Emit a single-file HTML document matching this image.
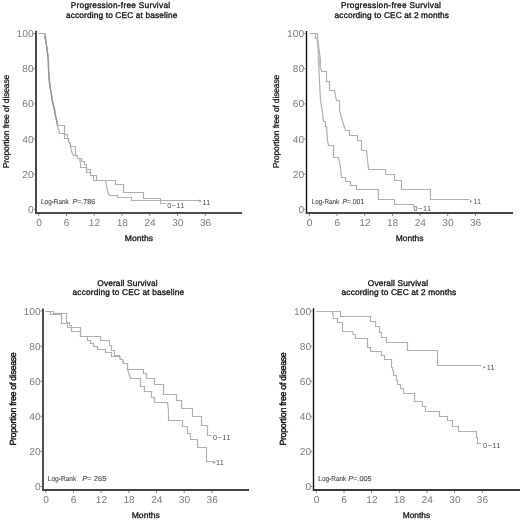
<!DOCTYPE html>
<html><head><meta charset="utf-8"><style>
html,body{margin:0;padding:0;background:#fff;width:520px;height:521px;overflow:hidden}
svg{display:block;filter:grayscale(1)}
text{font-family:"Liberation Sans", sans-serif;text-rendering:geometricPrecision}
.t{font-size:8.3px;fill:#111;stroke:#111;stroke-width:0.32px}
.yl{font-size:8.5px;fill:#111;stroke:#111;stroke-width:0.25px}
.mo{font-size:8.3px;fill:#111;stroke:#111;stroke-width:0.28px}
.tk{font-size:10px;fill:#7c7c7c;text-anchor:middle}
.ytk{font-size:10px;fill:#7c7c7c;text-anchor:end}
.lr{font-size:7.2px;fill:#505050;stroke:#505050;stroke-width:0.15px}
.cl{font-size:7.3px;fill:#555}
.ax{stroke:#222;stroke-width:2;fill:none}
.cv{stroke:#b0b0b0;stroke-width:1.2;fill:none}
.tick{stroke:#888;stroke-width:1}
</style></head><body>
<svg width="520" height="521" viewBox="0 0 520 521">

<text class="t" x="70.7" y="8.2" textLength="99.4" lengthAdjust="spacing">Progression-free Survival</text>
<text class="t" x="65.95" y="17.8" textLength="111.4" lengthAdjust="spacing">according to CEC at baseline</text>
<text class="yl" transform="translate(8.7,168.2) rotate(-90)" x="0" y="0" textLength="93.4" lengthAdjust="spacing">Proportion free of disease</text>
<line x1="36.0" y1="30.8" x2="36.0" y2="214.0" stroke="#4a4a4a" stroke-width="2.0"/>
<line x1="35.0" y1="213.0" x2="242.0" y2="213.0" stroke="#4c4c4c" stroke-width="2"/>
<line class="tick" x1="33.5" y1="209.4" x2="35.0" y2="209.4"/>
<text class="ytk" transform="translate(33.6,212.9) scale(1.02,1)">0</text>
<line class="tick" x1="33.5" y1="174.2" x2="35.0" y2="174.2"/>
<text class="ytk" transform="translate(33.6,177.7) scale(1.02,1)">20</text>
<line class="tick" x1="33.5" y1="139.0" x2="35.0" y2="139.0"/>
<text class="ytk" transform="translate(33.6,142.5) scale(1.02,1)">40</text>
<line class="tick" x1="33.5" y1="103.9" x2="35.0" y2="103.9"/>
<text class="ytk" transform="translate(33.6,107.4) scale(1.02,1)">60</text>
<line class="tick" x1="33.5" y1="68.7" x2="35.0" y2="68.7"/>
<text class="ytk" transform="translate(33.6,72.2) scale(1.02,1)">80</text>
<line class="tick" x1="33.5" y1="33.5" x2="35.0" y2="33.5"/>
<text class="ytk" transform="translate(33.6,37.0) scale(1.02,1)">100</text>
<line class="tick" x1="38.7" y1="214.0" x2="38.7" y2="216.0"/>
<text class="tk" transform="translate(39.0,226.2) scale(1.02,1)">0</text>
<line class="tick" x1="66.5" y1="214.0" x2="66.5" y2="216.0"/>
<text class="tk" transform="translate(66.7,226.2) scale(1.02,1)">6</text>
<line class="tick" x1="94.2" y1="214.0" x2="94.2" y2="216.0"/>
<text class="tk" transform="translate(94.5,226.2) scale(1.02,1)">12</text>
<line class="tick" x1="122.0" y1="214.0" x2="122.0" y2="216.0"/>
<text class="tk" transform="translate(122.3,226.2) scale(1.02,1)">18</text>
<line class="tick" x1="149.8" y1="214.0" x2="149.8" y2="216.0"/>
<text class="tk" transform="translate(150.0,226.2) scale(1.02,1)">24</text>
<line class="tick" x1="177.5" y1="214.0" x2="177.5" y2="216.0"/>
<text class="tk" transform="translate(177.8,226.2) scale(1.02,1)">30</text>
<line class="tick" x1="205.3" y1="214.0" x2="205.3" y2="216.0"/>
<text class="tk" transform="translate(205.6,226.2) scale(1.02,1)">36</text>
<text class="mo" x="124.8" y="240.7" textLength="28.2" lengthAdjust="spacingAndGlyphs">Months</text>
<text class="lr" x="41.0" y="204.4" textLength="27.8" lengthAdjust="spacingAndGlyphs">Log-Rank</text>
<text class="lr" x="72.39999999999999" y="204.4" textLength="22.9" lengthAdjust="spacingAndGlyphs"><tspan font-style="italic">P</tspan>=.786</text>
<polyline class="cv" points="38.5,33.5 45.5,33.5 45.5,39.5 46.5,45.5 47.5,52.5 48.5,58.5 48.5,70.5 49.5,80.5 50.5,88.5 51.5,94.5 52.5,101.5 54.5,108.5 55.5,115.5 56.5,120.5 57.5,125.5 64.5,125.5 64.5,134.5 67.5,134.5 67.5,138.5 68.5,138.5 68.5,142.5 69.5,142.5 70.5,144.5 70.5,146.5 75.5,146.5 75.5,155.5 77.5,155.5 77.5,158.5 81.5,158.5 81.5,161.5 84.5,161.5 84.5,164.5 86.5,164.5 86.5,169.5 90.5,169.5 90.5,175.5 96.5,175.5 96.5,180.5 115.5,180.5 115.5,184.5 123.5,184.5 123.5,192.5 143.5,192.5 143.5,198.5 160.5,198.5 160.5,203.5 165.5,203.5"/>
<polyline class="cv" points="38.5,33.5 44.5,33.5 44.5,37.5 45.5,39.5 46.5,45.5 47.5,52.5 48.5,58.5 48.5,70.5 49.5,80.5 50.5,88.5 51.5,94.5 52.5,101.5 54.5,108.5 55.5,115.5 56.5,120.5 57.5,125.5 58.5,129.5 59.5,133.5 64.5,133.5 64.5,138.5 67.5,138.5 68.5,138.5 68.5,142.5 69.5,142.5 70.5,144.5 70.5,146.5 71.5,151.5 73.5,155.5 75.5,155.5 77.5,155.5 77.5,158.5 79.5,158.5 80.5,163.5 80.5,167.5 86.5,167.5 86.5,172.5 90.5,172.5 90.5,175.5 93.5,175.5 93.5,180.5 96.5,180.5 105.5,180.5 106.5,185.5 107.5,190.5 108.5,193.5 109.5,195.5 117.5,195.5 117.5,197.5 131.5,197.5 131.5,200.5 199.5,200.5"/>
<polyline points="45.4,36.0 45.6,39.6 46.5,45.0 47.2,52.0 48.0,58.8 48.6,70.0 49.0,80.0 50.0,88.0 51.3,94.2 52.3,101.0 54.0,108.7 55.3,115.0 56.5,120.0 57.7,125.4" fill="none" stroke="#929292" stroke-width="1.2"/>
<text class="cl" x="167.20000000000002" y="208.0" textLength="17.1" lengthAdjust="spacing">0−11</text>
<text class="cl" x="202.5" y="205.0" letter-spacing="0.3">11</text>
<path d="M199.3,199.6 L201.8,200.9 L199.3,202.20000000000002 Z" fill="#888"/>
<text class="t" x="340.95" y="8.1" textLength="100.0" lengthAdjust="spacing">Progression-free Survival</text>
<text class="t" x="334.59999999999997" y="17.9" textLength="114.4" lengthAdjust="spacing">according to CEC at 2 months</text>
<text class="yl" transform="translate(278.8,168.2) rotate(-90)" x="0" y="0" textLength="93.4" lengthAdjust="spacing">Proportion free of disease</text>
<line x1="306.5" y1="31.0" x2="306.5" y2="214.0" stroke="#111" stroke-width="1.4"/>
<line x1="305.8" y1="213.0" x2="513.0" y2="213.0" stroke="#484848" stroke-width="2"/>
<line class="tick" x1="304.0" y1="209.4" x2="305.5" y2="209.4"/>
<text class="ytk" transform="translate(304.1,212.9) scale(1.02,1)">0</text>
<line class="tick" x1="304.0" y1="174.2" x2="305.5" y2="174.2"/>
<text class="ytk" transform="translate(304.1,177.7) scale(1.02,1)">20</text>
<line class="tick" x1="304.0" y1="139.0" x2="305.5" y2="139.0"/>
<text class="ytk" transform="translate(304.1,142.5) scale(1.02,1)">40</text>
<line class="tick" x1="304.0" y1="103.9" x2="305.5" y2="103.9"/>
<text class="ytk" transform="translate(304.1,107.4) scale(1.02,1)">60</text>
<line class="tick" x1="304.0" y1="68.7" x2="305.5" y2="68.7"/>
<text class="ytk" transform="translate(304.1,72.2) scale(1.02,1)">80</text>
<line class="tick" x1="304.0" y1="33.5" x2="305.5" y2="33.5"/>
<text class="ytk" transform="translate(304.1,37.0) scale(1.02,1)">100</text>
<line class="tick" x1="309.4" y1="214.0" x2="309.4" y2="216.0"/>
<text class="tk" transform="translate(309.6,226.2) scale(1.02,1)">0</text>
<line class="tick" x1="337.1" y1="214.0" x2="337.1" y2="216.0"/>
<text class="tk" transform="translate(337.3,226.2) scale(1.02,1)">6</text>
<line class="tick" x1="364.7" y1="214.0" x2="364.7" y2="216.0"/>
<text class="tk" transform="translate(365.0,226.2) scale(1.02,1)">12</text>
<line class="tick" x1="392.4" y1="214.0" x2="392.4" y2="216.0"/>
<text class="tk" transform="translate(392.6,226.2) scale(1.02,1)">18</text>
<line class="tick" x1="420.1" y1="214.0" x2="420.1" y2="216.0"/>
<text class="tk" transform="translate(420.3,226.2) scale(1.02,1)">24</text>
<line class="tick" x1="447.7" y1="214.0" x2="447.7" y2="216.0"/>
<text class="tk" transform="translate(448.0,226.2) scale(1.02,1)">30</text>
<line class="tick" x1="475.4" y1="214.0" x2="475.4" y2="216.0"/>
<text class="tk" transform="translate(475.6,226.2) scale(1.02,1)">36</text>
<text class="mo" x="395.7" y="240.7" textLength="27.8" lengthAdjust="spacingAndGlyphs">Months</text>
<text class="lr" x="311.8" y="204.4" textLength="27.3" lengthAdjust="spacingAndGlyphs">Log-Rank</text>
<text class="lr" x="342.40000000000003" y="204.4" textLength="21.8" lengthAdjust="spacingAndGlyphs"><tspan font-style="italic">P</tspan>=.001</text>
<polyline class="cv" points="309.5,33.5 317.5,33.5 317.5,38.5 318.5,45.5 319.5,52.5 320.5,60.5 320.5,66.5 321.5,71.5 326.5,71.5 326.5,81.5 329.5,81.5 329.5,90.5 334.5,90.5 335.5,95.5 336.5,100.5 339.5,100.5 339.5,110.5 343.5,124.5 345.5,130.5 349.5,130.5 349.5,135.5 357.5,135.5 357.5,140.5 361.5,140.5 361.5,150.5 366.5,150.5 368.5,169.5 385.5,169.5 385.5,174.5 394.5,174.5 394.5,180.5 401.5,180.5 401.5,189.5 430.5,189.5 430.5,199.5 469.5,199.5"/>
<polyline class="cv" points="309.5,33.5 315.5,33.5 315.5,38.5 317.5,38.5 318.5,45.5 318.5,60.5 319.5,80.5 320.5,100.5 322.5,112.5 323.5,121.5 325.5,121.5 325.5,126.5 326.5,126.5 327.5,140.5 328.5,145.5 333.5,145.5 333.5,157.5 338.5,157.5 340.5,167.5 341.5,177.5 345.5,177.5 345.5,181.5 350.5,181.5 350.5,185.5 356.5,185.5 356.5,189.5 378.5,189.5 378.5,199.5 394.5,199.5 394.5,204.5 413.5,204.5 413.5,206.5"/>
<polygon points="317.1,38.0 318.0,45.0 319.0,52.0 320.0,60.0 320.6,66.9 318.0,66.9 317.8,60.0 317.5,49.0 316.5,40.0 315.8,38.0" fill="#bdbdbd"/>
<text class="cl" x="413.6" y="210.8" textLength="17.4" lengthAdjust="spacing">0−11</text>
<text class="cl" x="473.2" y="203.5" letter-spacing="0.3">11</text>
<path d="M470.0,200.0 L472.5,201.3 L470.0,202.60000000000002 Z" fill="#888"/>
<text class="t" x="97.3" y="285.5" textLength="60.3" lengthAdjust="spacing">Overall Survival</text>
<text class="t" x="72.60000000000001" y="295.2" textLength="111.5" lengthAdjust="spacing">according to CEC at baseline</text>
<text class="yl" style="font-size:8.9px;stroke-width:0.4px" transform="translate(15.7,445.6) rotate(-90)" x="0" y="0" textLength="93.4" lengthAdjust="spacing">Proportion free of disease</text>
<line x1="43.0" y1="308.5" x2="43.0" y2="491.0" stroke="#505050" stroke-width="2.0"/>
<line x1="42.0" y1="490.0" x2="249.0" y2="490.0" stroke="#444444" stroke-width="2"/>
<line class="tick" x1="40.5" y1="486.5" x2="42.0" y2="486.5"/>
<text class="ytk" transform="translate(40.6,490.0) scale(1.02,1)">0</text>
<line class="tick" x1="40.5" y1="451.4" x2="42.0" y2="451.4"/>
<text class="ytk" transform="translate(40.6,454.9) scale(1.02,1)">20</text>
<line class="tick" x1="40.5" y1="416.3" x2="42.0" y2="416.3"/>
<text class="ytk" transform="translate(40.6,419.8) scale(1.02,1)">40</text>
<line class="tick" x1="40.5" y1="381.2" x2="42.0" y2="381.2"/>
<text class="ytk" transform="translate(40.6,384.7) scale(1.02,1)">60</text>
<line class="tick" x1="40.5" y1="346.1" x2="42.0" y2="346.1"/>
<text class="ytk" transform="translate(40.6,349.6) scale(1.02,1)">80</text>
<line class="tick" x1="40.5" y1="311.0" x2="42.0" y2="311.0"/>
<text class="ytk" transform="translate(40.6,314.5) scale(1.02,1)">100</text>
<line class="tick" x1="45.8" y1="491.0" x2="45.8" y2="493.0"/>
<text class="tk" transform="translate(46.0,503.2) scale(1.02,1)">0</text>
<line class="tick" x1="73.5" y1="491.0" x2="73.5" y2="493.0"/>
<text class="tk" transform="translate(73.7,503.2) scale(1.02,1)">6</text>
<line class="tick" x1="101.2" y1="491.0" x2="101.2" y2="493.0"/>
<text class="tk" transform="translate(101.4,503.2) scale(1.02,1)">12</text>
<line class="tick" x1="128.9" y1="491.0" x2="128.9" y2="493.0"/>
<text class="tk" transform="translate(129.1,503.2) scale(1.02,1)">18</text>
<line class="tick" x1="156.5" y1="491.0" x2="156.5" y2="493.0"/>
<text class="tk" transform="translate(156.8,503.2) scale(1.02,1)">24</text>
<line class="tick" x1="184.2" y1="491.0" x2="184.2" y2="493.0"/>
<text class="tk" transform="translate(184.5,503.2) scale(1.02,1)">30</text>
<line class="tick" x1="211.9" y1="491.0" x2="211.9" y2="493.0"/>
<text class="tk" transform="translate(212.2,503.2) scale(1.02,1)">36</text>
<text class="mo" x="131.7" y="518.0" textLength="28.2" lengthAdjust="spacingAndGlyphs">Months</text>
<text class="lr" x="47.8" y="481.0" textLength="28.4" lengthAdjust="spacingAndGlyphs">Log-Rank</text>
<text class="lr" x="82.2" y="481.0" textLength="24.2" lengthAdjust="spacingAndGlyphs"><tspan font-style="italic">P</tspan>= 265</text>
<polyline class="cv" points="45.5,311.5 53.5,311.5 53.5,313.5 66.5,313.5 66.5,322.5 69.5,322.5 69.5,325.5 71.5,325.5 71.5,327.5 80.5,327.5 80.5,336.5 100.5,336.5 100.5,340.5 109.5,340.5 109.5,345.5 111.5,345.5 111.5,350.5 114.5,350.5 114.5,355.5 119.5,355.5 120.5,359.5 122.5,359.5 123.5,363.5 127.5,363.5 127.5,369.5 143.5,369.5 143.5,373.5 146.5,373.5 146.5,378.5 154.5,378.5 154.5,384.5 163.5,384.5 163.5,394.5 176.5,394.5 176.5,400.5 181.5,400.5 181.5,408.5 192.5,408.5 192.5,416.5 201.5,416.5 201.5,425.5 207.5,425.5 207.5,435.5 211.5,435.5"/>
<polyline class="cv" points="45.5,311.5 50.5,311.5 50.5,314.5 61.5,314.5 61.5,323.5 67.5,323.5 67.5,327.5 71.5,327.5 71.5,331.5 80.5,331.5 80.5,336.5 87.5,336.5 87.5,340.5 90.5,340.5 90.5,343.5 93.5,343.5 93.5,346.5 97.5,346.5 97.5,349.5 105.5,349.5 105.5,352.5 111.5,352.5 111.5,356.5 119.5,356.5 120.5,359.5 122.5,359.5 123.5,363.5 127.5,363.5 127.5,369.5 129.5,375.5 130.5,378.5 140.5,378.5 140.5,386.5 144.5,386.5 144.5,391.5 151.5,391.5 151.5,397.5 154.5,397.5 154.5,402.5 167.5,402.5 168.5,410.5 168.5,420.5 182.5,420.5 182.5,426.5 187.5,426.5 187.5,433.5 190.5,433.5 190.5,439.5 197.5,439.5 197.5,447.5 206.5,447.5 206.5,461.5 213.5,461.5"/>
<text class="cl" x="212.9" y="439.5" textLength="17.7" lengthAdjust="spacing">0−11</text>
<text class="cl" x="216.0" y="465.0" letter-spacing="0.3">11</text>
<path d="M213.3,461.09999999999997 L215.8,462.4 L213.3,463.7 Z" fill="#888"/>
<text class="t" x="367.8" y="285.5" textLength="60.2" lengthAdjust="spacing">Overall Survival</text>
<text class="t" x="341.59999999999997" y="294.9" textLength="114.5" lengthAdjust="spacing">according to CEC at 2 months</text>
<text class="yl" style="font-size:8.9px;stroke-width:0.4px" transform="translate(285.7,445.6) rotate(-90)" x="0" y="0" textLength="93.4" lengthAdjust="spacing">Proportion free of disease</text>
<line x1="313.5" y1="308.2" x2="313.5" y2="491.0" stroke="#111" stroke-width="1.4"/>
<line x1="312.8" y1="490.0" x2="521.0" y2="490.0" stroke="#3a3a3a" stroke-width="2"/>
<line class="tick" x1="311.0" y1="486.5" x2="312.5" y2="486.5"/>
<text class="ytk" transform="translate(311.1,490.0) scale(1.02,1)">0</text>
<line class="tick" x1="311.0" y1="451.4" x2="312.5" y2="451.4"/>
<text class="ytk" transform="translate(311.1,454.9) scale(1.02,1)">20</text>
<line class="tick" x1="311.0" y1="416.3" x2="312.5" y2="416.3"/>
<text class="ytk" transform="translate(311.1,419.8) scale(1.02,1)">40</text>
<line class="tick" x1="311.0" y1="381.2" x2="312.5" y2="381.2"/>
<text class="ytk" transform="translate(311.1,384.7) scale(1.02,1)">60</text>
<line class="tick" x1="311.0" y1="346.1" x2="312.5" y2="346.1"/>
<text class="ytk" transform="translate(311.1,349.6) scale(1.02,1)">80</text>
<line class="tick" x1="311.0" y1="311.0" x2="312.5" y2="311.0"/>
<text class="ytk" transform="translate(311.1,314.5) scale(1.02,1)">100</text>
<line class="tick" x1="316.3" y1="491.0" x2="316.3" y2="493.0"/>
<text class="tk" transform="translate(316.6,503.2) scale(1.02,1)">0</text>
<line class="tick" x1="344.0" y1="491.0" x2="344.0" y2="493.0"/>
<text class="tk" transform="translate(344.2,503.2) scale(1.02,1)">6</text>
<line class="tick" x1="371.6" y1="491.0" x2="371.6" y2="493.0"/>
<text class="tk" transform="translate(371.9,503.2) scale(1.02,1)">12</text>
<line class="tick" x1="399.3" y1="491.0" x2="399.3" y2="493.0"/>
<text class="tk" transform="translate(399.5,503.2) scale(1.02,1)">18</text>
<line class="tick" x1="427.0" y1="491.0" x2="427.0" y2="493.0"/>
<text class="tk" transform="translate(427.2,503.2) scale(1.02,1)">24</text>
<line class="tick" x1="454.6" y1="491.0" x2="454.6" y2="493.0"/>
<text class="tk" transform="translate(454.9,503.2) scale(1.02,1)">30</text>
<line class="tick" x1="482.3" y1="491.0" x2="482.3" y2="493.0"/>
<text class="tk" transform="translate(482.5,503.2) scale(1.02,1)">36</text>
<text class="mo" x="402.7" y="518.0" textLength="27.5" lengthAdjust="spacingAndGlyphs">Months</text>
<text class="lr" x="318.3" y="481.0" textLength="28.0" lengthAdjust="spacingAndGlyphs">Log-Rank</text>
<text class="lr" x="348.2" y="481.0" textLength="23.5" lengthAdjust="spacingAndGlyphs"><tspan font-style="italic">P</tspan>=.005</text>
<polyline class="cv" points="316.5,311.5 340.5,311.5 340.5,316.5 370.5,316.5 370.5,321.5 375.5,321.5 375.5,326.5 379.5,326.5 379.5,332.5 381.5,332.5 381.5,337.5 386.5,337.5 386.5,342.5 407.5,342.5 407.5,350.5 437.5,350.5 437.5,365.5 481.5,365.5"/>
<polyline class="cv" points="316.5,311.5 332.5,311.5 333.5,318.5 337.5,318.5 337.5,322.5 342.5,322.5 342.5,331.5 352.5,331.5 353.5,334.5 355.5,334.5 355.5,338.5 367.5,338.5 367.5,347.5 370.5,347.5 370.5,351.5 381.5,351.5 381.5,355.5 384.5,355.5 384.5,359.5 391.5,359.5 391.5,367.5 392.5,367.5 392.5,370.5 393.5,370.5 393.5,375.5 396.5,375.5 396.5,380.5 397.5,380.5 397.5,384.5 400.5,384.5 400.5,388.5 403.5,388.5 403.5,393.5 414.5,393.5 414.5,401.5 422.5,401.5 422.5,406.5 425.5,406.5 425.5,411.5 439.5,411.5 439.5,416.5 447.5,416.5 447.5,420.5 452.5,420.5 452.5,426.5 458.5,426.5 458.5,431.5 476.5,431.5 476.5,437.5 477.5,437.5 477.5,443.5 481.5,443.5"/>
<text class="cl" x="483.1" y="447.8" textLength="17.5" lengthAdjust="spacing">0−11</text>
<text class="cl" x="486.8" y="369.5" letter-spacing="0.3">11</text>
<path d="M483.4,365.9 L485.9,367.2 L483.4,368.5 Z" fill="#888"/>
</svg></body></html>
